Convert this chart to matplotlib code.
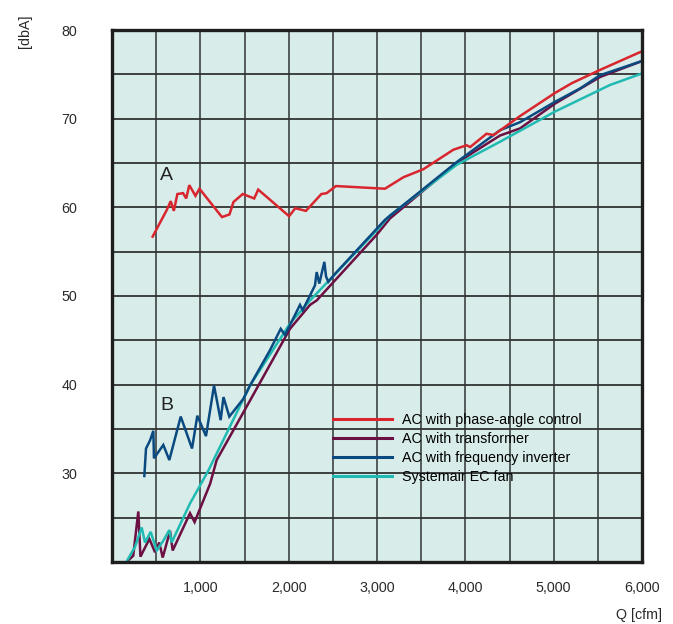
"""Sound level vs airflow for four fan control methods."""

import matplotlib

matplotlib.use("Agg")

import matplotlib.pyplot as plt
from matplotlib.ticker import FixedLocator, FuncFormatter

plt.rcParams["font.family"] = ["Liberation Sans", "DejaVu Sans"]

# airflow [cfm] / sound level [dbA]
phase_q = [460, 620, 665, 700, 740, 805, 840, 875, 945, 990, 1245, 1330, 1375,
           1480, 1610, 1655, 2005, 2075, 2195, 2370, 2430, 2535, 3090, 3300,
           3525, 3865, 4015, 4055, 4240, 4320, 4620, 5015, 5205, 5525, 6000]
phase_db = [56.7, 59.7, 60.7, 59.6, 61.5, 61.6, 61.0, 62.5, 61.3, 62.1, 58.9,
            59.2, 60.6, 61.5, 61.0, 62.0, 59.0, 59.9, 59.6, 61.5, 61.6, 62.4,
            62.1, 63.4, 64.3, 66.5, 67.0, 66.8, 68.3, 68.15, 70.3, 72.9, 74.0,
            75.5, 77.6]

trafo_q = [185, 240, 298, 322, 423, 487, 535, 574, 657, 687, 883, 935, 1110,
           1185, 1562, 2015, 2242, 2317, 2996, 3147, 3900, 4393, 4619, 5015,
           5525, 6000]
trafo_db = [20.2, 20.7, 25.7, 20.6, 22.6, 21.1, 22.2, 20.5, 23.5, 21.3, 25.5,
            24.5, 28.8, 31.5, 38.2, 46.3, 49.0, 49.5, 56.9, 58.75, 65.0, 68.1,
            68.9, 71.7, 74.7, 76.5]

inverter_q = [366, 385, 430, 468, 475, 581, 649, 778, 906, 966, 1064, 1155,
              1230, 1262, 1328, 1487, 1562, 1789, 1910, 1959, 2128, 2159, 2298,
              2317, 2347, 2404, 2423, 2449, 2525, 3091, 3902, 4393, 4619, 5015,
              5298, 5525, 6000]
inverter_db = [29.7, 32.8, 33.7, 34.8, 31.7, 33.2, 31.5, 36.4, 32.8, 36.5,
               34.2, 39.9, 36.0, 38.6, 36.4, 38.4, 39.9, 43.9, 46.3, 45.6,
               49.0, 48.4, 51.2, 52.7, 51.4, 53.85, 52.2, 51.6, 52.5, 58.6,
               65.1, 68.7, 69.6, 71.9, 73.4, 74.9, 76.5]

ec_q = [174, 260, 336, 374, 438, 506, 581, 649, 675, 883, 1090, 1562, 2015,
        2242, 2996, 3147, 3902, 4393, 5015, 5638, 6000]
ec_db = [20.2, 21.7, 23.9, 22.2, 23.4, 21.3, 22.4, 23.6, 22.2, 26.6, 30.3,
         39.9, 46.9, 49.5, 57.4, 59.1, 64.8, 67.4, 70.8, 73.8, 75.1]

labels = ["AC with phase-angle control", "AC with transformer",
          "AC with frequency inverter", "Systemair EC fan"]
colors = ["#d9262e", "#6c0f42", "#0b4a80", "#21bab2"]

x_ticks = [1000, 2000, 3000, 4000, 5000, 6000]
y_ticks = [30, 40, 50, 60, 70, 80]

fig = plt.figure(figsize=(6.73, 6.24), dpi=100)
ax = fig.add_axes([112 / 673, 1 - 562 / 624, 530 / 673, 532 / 624])
ax.set_facecolor("#d8ecea")

# grid every 500 cfm / 5 dbA
for q in range(500, 6000, 500):
    ax.axvline(q, color="#4a5050", lw=1.3, zorder=1)
for db in range(25, 80, 5):
    ax.axhline(db, color="#303232", lw=1.3, zorder=1)

series = [(phase_q, phase_db), (trafo_q, trafo_db),
          (inverter_q, inverter_db), (ec_q, ec_db)]
zorders = [5, 2, 4, 3]
for (q, db), lab, c, z in zip(series, labels, colors, zorders):
    ax.plot(q, db, color=c, lw=1.8, label=lab, zorder=z,
            solid_joinstyle="miter")

ax.text(620, 63.6, "A", fontsize=14, color="#222222", ha="center", va="center")
ax.text(620, 37.7, "B", fontsize=14, color="#222222", ha="center", va="center")

ax.set_xlim(0, 6000)
ax.set_ylim(20, 80)
ax.xaxis.set_major_locator(FixedLocator(x_ticks))
ax.yaxis.set_major_locator(FixedLocator(y_ticks))
ax.xaxis.set_major_formatter(FuncFormatter(lambda v, _: f"{int(v):,}"))
ax.yaxis.set_major_formatter(FuncFormatter(lambda v, _: f"{int(v)}"))
ax.tick_params(length=0, labelsize=10.3, labelcolor="#2a2a2a")
ax.tick_params(axis="x", pad=14)
ax.tick_params(axis="y", pad=25)
for sp in ax.spines.values():
    sp.set_linewidth(2.4)
    sp.set_color("#1e1e1e")
    sp.set_zorder(6)

leg = ax.legend(loc="upper left", bbox_to_anchor=(0.406, 0.29),
                frameon=False, fontsize=10.3, handlelength=4.1,
                handletextpad=0.75, labelspacing=0.35, borderaxespad=0)
for h in leg.get_lines():
    h.set_linewidth(2.2)

fig.text(25 / 673, 1 - 31 / 624, "[dbA]", rotation=90, ha="center",
         va="center", fontsize=10.3, color="#2a2a2a")
fig.text(662 / 673, 1 - 615 / 624, "Q [cfm]", ha="right", va="center",
         fontsize=10.3, color="#2a2a2a")

fig.savefig("out.png", dpi=100)
